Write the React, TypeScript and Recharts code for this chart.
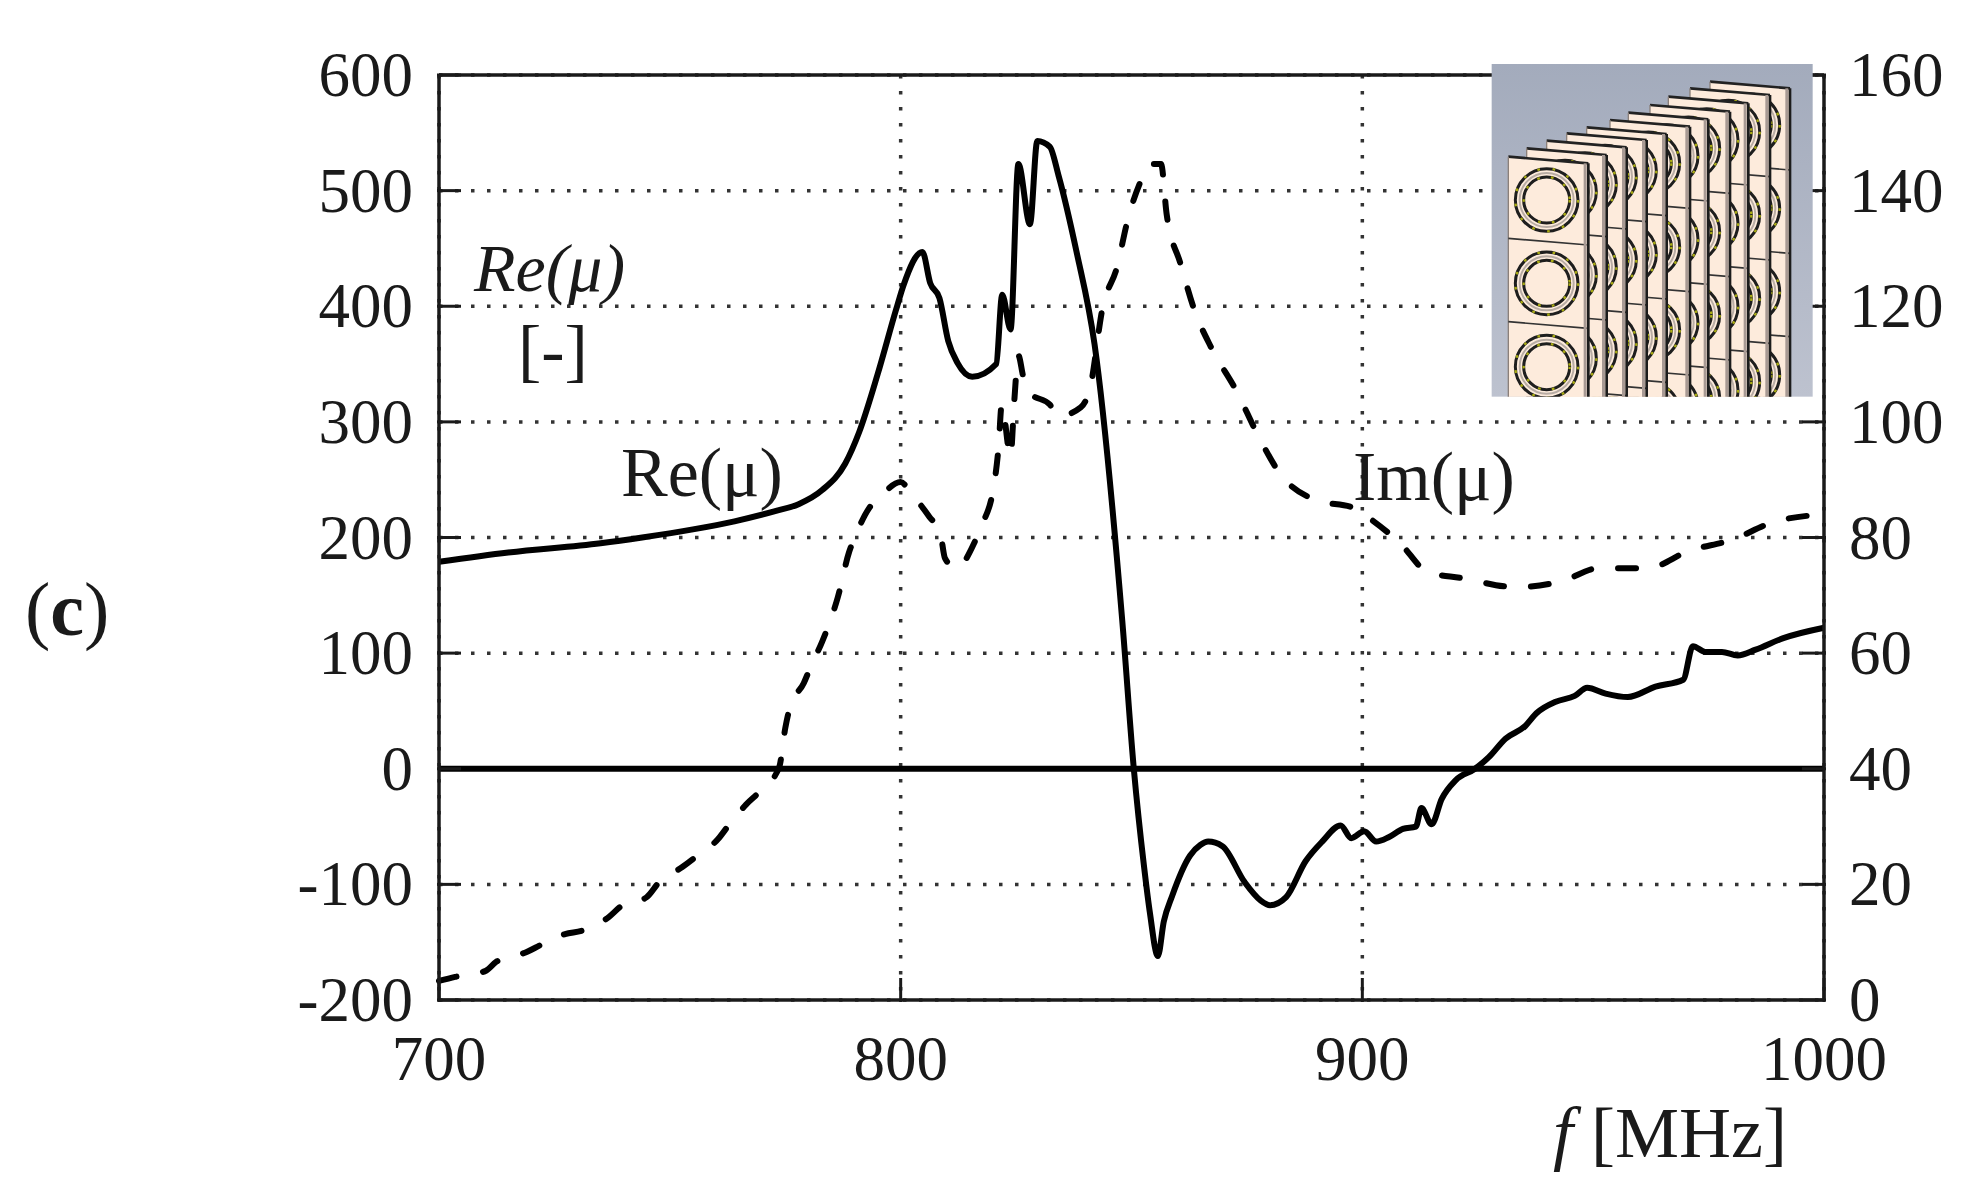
import { CartesianGrid, Line, LineChart, ReferenceLine, XAxis, YAxis } from 'recharts';

const reFreq = [700, 715, 735, 744, 755, 764, 773, 778, 783, 788, 791, 795, 799, 800.6, 804.7, 806.4, 808.4, 810.3, 812.3, 815.5, 820.7, 822, 823.8, 825.5, 828, 829.6, 832.3, 834.2, 838.1, 842, 848, 850.5, 852.7, 854, 855.7, 857, 858.8, 862.7, 864.9, 866.6, 869.7, 874.5, 878, 880, 883.5, 887.7, 891.3, 895.3, 897.6, 900.4, 903, 905.8, 908.8, 911.6, 912.8, 915, 917.2, 920.2, 924.4, 927.4, 931, 935.3, 937.7, 941.9, 946, 948.7, 952.7, 957.5, 963.5, 969.5, 971.6, 974.3, 977.9, 981.3, 985.2, 991.2, 1000];
const reValues = [179, 187, 195, 200, 207, 214, 223, 229, 241, 264, 291, 341, 397, 418, 447, 420, 407, 370, 351, 339, 350, 410, 380, 523, 471, 543, 538, 513, 447, 367, 128, 0, -84, -125, -162, -132, -110, -75, -66, -63, -67, -98, -114, -118, -111, -80, -63, -49, -60, -54, -63, -59, -52, -50, -34, -48, -26, -10, 0, 10, 26, 37, 48, 58, 63, 70, 65, 62, 71, 77, 106, 101, 101, 98, 103, 113, 122];

const imFreq = [700, 703.5, 710, 712.4, 719, 722, 727.3, 731, 736.7, 739.4, 745, 747.7, 752.7, 756, 760.4, 763, 766.5, 769.8, 773.7, 775, 776, 779, 780.7, 783, 786.4, 788.8, 790.2, 793.1, 795.5, 800, 802.3, 806.2, 808.6, 809.6, 812, 815.9, 817.3, 820.2, 821.2, 821.9, 823.8, 824.6, 825.5, 826.5, 828, 832.3, 834.2, 839, 841, 843.8, 846.8, 849.2, 852.2, 854, 856.4, 857.6, 860.6, 863.6, 867.3, 872.7, 877.5, 882.3, 889.5, 898.6, 900.4, 908.2, 914.2, 921.4, 933.5, 943, 951.4, 961.7, 970.8, 980.4, 988.8, 1000];
const imValues = [3.3, 4, 5, 6.6, 8.3, 9.5, 11.4, 12, 14.3, 16.2, 17.8, 20.4, 23, 25, 27.8, 30.5, 33.8, 36.3, 40.3, 47, 50.6, 54.8, 58, 62, 69.7, 77.4, 80.3, 85, 87, 89.6, 87.6, 83.6, 80.7, 76.4, 74.7, 79, 81.7, 89, 95.6, 103, 94, 103.5, 111.5, 108, 105, 103, 101, 102.5, 105.8, 120, 126.6, 135, 142, 144.6, 144.6, 136, 127.4, 119.4, 112.8, 105.4, 97.5, 90.9, 86.6, 85, 84, 79, 74, 73, 71.4, 72.4, 74.7, 74.7, 77.7, 79.7, 82.6, 84];

const freqTicks = [700, 800, 900, 1000];
const reTicks = [-200, -100, 0, 100, 200, 300, 400, 500, 600];
const imTicks = [0, 20, 40, 60, 80, 100, 120, 140, 160];

const panelEdges = [900, 840, 775, 720, 655, 600, 530, 470, 410, 350, 295];
const panelTops = [85, 105, 130, 155, 178, 200, 222, 240, 262, 285, 310];
const ringRows = [110, 360, 610, 860];

const rePoints = reFreq.map((f, i) => ({ f, y: reValues[i] }));
const imPoints = imFreq.map((f, i) => ({ f, y: imValues[i] }));

const serif = '"Liberation Serif", serif';
const ink = '#1a1a1a';

function BottomTick({ x, y, payload }: any) {
  return (
    <g>
      <line x1={x} x2={x} y1={y} y2={y - 24} stroke={ink} strokeWidth={3} />
      <text x={x} y={y + 78} textAnchor="middle" fontFamily={serif} fontSize={63} fill={ink}>
        {payload.value}
      </text>
    </g>
  );
}

function LeftTick({ x, y, payload }: any) {
  return (
    <g>
      <line x1={x} x2={x + 24} y1={y} y2={y} stroke={ink} strokeWidth={3} />
      <text x={x - 24} y={y + 21} textAnchor="end" fontFamily={serif} fontSize={63} fill={ink}>
        {payload.value}
      </text>
    </g>
  );
}

function RightTick({ x, y, payload }: any) {
  return (
    <g>
      <line x1={x} x2={x - 24} y1={y} y2={y} stroke={ink} strokeWidth={3} />
      <text x={x + 23} y={y + 21} textAnchor="start" fontFamily={serif} fontSize={63} fill={ink}>
        {payload.value}
      </text>
    </g>
  );
}

// the small CAD picture in the corner, drawn back panel first
function Inset() {
  return (
    <svg
      width={330}
      height={340}
      viewBox="0 0 990 1020"
      style={{ position: 'absolute', left: 1490, top: 60 }}
    >
      <defs>
        <linearGradient id="insetBg" x1="0" y1="0" x2="0" y2="1">
          <stop offset="0" stopColor="#a3abbc" />
          <stop offset="1" stopColor="#bdc2cf" />
        </linearGradient>
        <clipPath id="insetClip">
          <rect x={5} y={12} width={963} height={998} />
        </clipPath>
      </defs>
      <rect x={5} y={12} width={963} height={998} fill="url(#insetBg)" />
      <g clipPath="url(#insetClip)">
        {panelEdges.map((r, i) => {
          const t = panelTops[i];
          return (
            <g key={r}>
              <polygon points={`${r - 240},${t - 20} ${r},${t} ${r},1020 ${r - 240},1020`} fill="#fdebdc" />
              <line x1={r - 240} x2={r} y1={t - 20} y2={t} stroke="#222" strokeWidth={8} />
              <line x1={r - 240} x2={r - 240} y1={t - 20} y2={1020} stroke="#8b807a" strokeWidth={4} />
              {ringRows.map((dy) => (
                <g key={dy} fill="none">
                  <line x1={r - 240} x2={r} y1={t + dy + 115} y2={t + dy + 135} stroke="#333" strokeWidth={5} />
                  <circle cx={r - 125} cy={t + dy} r={94} stroke="#1e1e1e" strokeWidth={9} />
                  <circle cx={r - 125} cy={t + dy} r={94} stroke="#a9ab14" strokeWidth={7} strokeDasharray="8 38" />
                  <circle cx={r - 125} cy={t + dy} r={81} stroke="#b8aca4" strokeWidth={6} />
                  <circle cx={r - 125} cy={t + dy} r={69} stroke="#1e1e1e" strokeWidth={9} />
                  <circle cx={r - 125} cy={t + dy} r={69} stroke="#a9ab14" strokeWidth={7} strokeDasharray="8 34" />
                </g>
              ))}
              <rect x={r - 14} y={t} width={9} height={1020} fill="#a89a94" />
              <line x1={r} x2={r} y1={t} y2={1020} stroke="#1c1c1c" strokeWidth={8} />
            </g>
          );
        })}
      </g>
    </svg>
  );
}

export default function App() {
  return (
    <div style={{ position: 'absolute', left: 0, top: 0, width: 1971, height: 1203, background: '#fff' }}>
      <LineChart width={1971} height={1203} margin={{ top: 75, right: 47, bottom: 143, left: 339 }}>
        <CartesianGrid yAxisId="re" stroke="#333" strokeWidth={3.5} strokeDasharray="3.5 12.5" />
        <XAxis
          type="number"
          dataKey="f"
          domain={[700, 1000]}
          ticks={freqTicks}
          height={60}
          interval={0}
          tickSize={0}
          tickLine={false}
          tick={BottomTick}
          stroke={ink}
          strokeWidth={3.5}
        />
        <YAxis
          yAxisId="re"
          domain={[-200, 600]}
          ticks={reTicks}
          width={100}
          interval={0}
          tickSize={0}
          tickLine={false}
          tick={LeftTick}
          stroke={ink}
          strokeWidth={3.5}
        />
        <YAxis
          yAxisId="im"
          orientation="right"
          domain={[0, 160]}
          ticks={imTicks}
          width={100}
          interval={0}
          tickSize={0}
          tickLine={false}
          tick={RightTick}
          stroke={ink}
          strokeWidth={3.5}
        />
        <ReferenceLine yAxisId="re" y={600} stroke={ink} strokeWidth={3.5} />
        <ReferenceLine yAxisId="re" y={0} stroke="#000" strokeWidth={6} />
        <Line
          yAxisId="im"
          data={imPoints}
          dataKey="y"
          type="monotone"
          dot={false}
          stroke="#000"
          strokeWidth={6}
          strokeDasharray="18 27"
          strokeLinecap="round"
          isAnimationActive={false}
        />
        <Line
          yAxisId="re"
          data={rePoints}
          dataKey="y"
          type="monotone"
          dot={false}
          stroke="#000"
          strokeWidth={6}
          strokeLinejoin="round"
          isAnimationActive={false}
        />
        <g fontFamily={serif} fill={ink}>
          <text x={474} y={291} fontSize={68} fontStyle="italic">Re(μ)</text>
          <text x={518} y={374} fontSize={70}>[-]</text>
          <text x={621} y={496} fontSize={70}>Re(μ)</text>
          <text x={1353} y={500} fontSize={70}>Im(μ)</text>
          <text x={1553} y={1157} fontSize={72}>
            <tspan fontStyle="italic">f</tspan> [MHz]
          </text>
          <text x={25} y={635} fontSize={76}>
            (<tspan fontWeight="bold">c</tspan>)
          </text>
        </g>
      </LineChart>
      <Inset />
    </div>
  );
}
